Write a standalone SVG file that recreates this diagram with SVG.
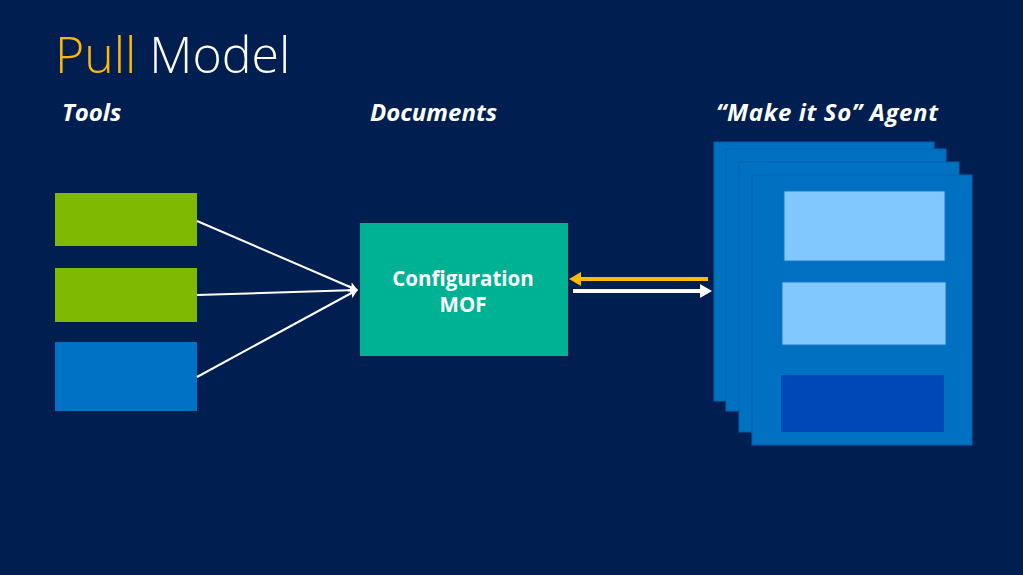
<svg xmlns="http://www.w3.org/2000/svg" width="1023" height="575" viewBox="0 0 1023 575">
<defs>
<style>
.bg{fill:#001e50}
.hdr{font-family:"Open Sans","Noto Sans","Liberation Sans",sans-serif;font-weight:700;font-style:italic;font-size:24px;fill:#ffffff}
.title{font-family:"Open Sans","Noto Sans","Liberation Sans",sans-serif;font-weight:300;font-size:50px}
.lbl{font-family:"Open Sans","Noto Sans","Liberation Sans",sans-serif;font-weight:700;font-size:20.5px;fill:#ffffff;text-anchor:middle}
.page{fill:#0070c0;stroke:#0062ad;stroke-width:1}
.green{fill:#7fba00}
.blue{fill:#0072c6}
.light{fill:#80c8ff;stroke:#1a78c8;stroke-width:1}
.dark{fill:#0047b8}
.wl{stroke:#ffffff;stroke-width:2;fill:none}
.arr{stroke-width:4;fill:none}
</style>
<marker id="ahw" markerWidth="10" markerHeight="10" refX="8" refY="5" orient="auto" markerUnits="userSpaceOnUse">
<path d="M0,0 L9,5 L0,10 L2,5 Z" fill="#ffffff"/>
</marker>
<marker id="ahw2" markerWidth="14" markerHeight="16" refX="3" refY="7" orient="auto" markerUnits="userSpaceOnUse">
<path d="M0,0 L12,7 L0,14 Z" fill="#ffffff"/>
</marker>
<marker id="ahy" markerWidth="14" markerHeight="16" refX="3" refY="7" orient="auto" markerUnits="userSpaceOnUse">
<path d="M0,0 L12,7 L0,14 Z" fill="#ffb900"/>
</marker>
</defs>
<rect class="bg" x="0" y="0" width="1023" height="575"/>
<g id="title">
<text class="title" x="55" y="73"><tspan fill="#ffb900">Pull</tspan><tspan fill="#ffffff"> Model</tspan></text>
</g>
<g id="headers">
<text class="hdr" x="62" y="121">Tools</text>
<text class="hdr" x="370" y="121">Documents</text>
<text class="hdr" x="716" y="121" textLength="222" lengthAdjust="spacing">“Make it So” Agent</text>
</g>
<g id="tool1"><rect class="green" x="55" y="193" width="142" height="53"/></g>
<g id="tool2"><rect class="green" x="55" y="268" width="142" height="54"/></g>
<g id="tool3"><rect class="blue" x="55" y="342" width="142" height="69"/></g>
<g id="config">
<rect x="360" y="223" width="208" height="133" fill="#00b294"/>
<text class="lbl" x="463" y="286">Configuration</text>
<text class="lbl" x="463" y="312">MOF</text>
</g>
<g id="agent">
<rect class="page" x="714" y="142" width="220" height="259"/>
<rect class="page" x="726" y="149" width="220" height="262"/>
<rect class="page" x="739" y="162" width="220" height="270"/>
<rect class="page" x="752" y="175" width="220" height="270"/>
<rect class="light" x="784" y="191" width="161" height="70"/>
<rect class="light" x="782" y="282" width="164" height="63"/>
<rect class="dark" x="781" y="375" width="163" height="57"/>
</g>
<g id="connectors">
<line class="wl" x1="197" y1="221" x2="357" y2="290" marker-end="url(#ahw)"/>
<line class="wl" x1="197" y1="295" x2="357" y2="290" marker-end="url(#ahw)"/>
<line class="wl" x1="197" y1="377" x2="357" y2="290" marker-end="url(#ahw)"/>
<line class="arr" stroke="#ffb900" x1="708" y1="279" x2="578" y2="279" marker-end="url(#ahy)"/>
<line class="arr" stroke="#ffffff" x1="573" y1="291" x2="703" y2="291" marker-end="url(#ahw2)"/>
</g>
</svg>
